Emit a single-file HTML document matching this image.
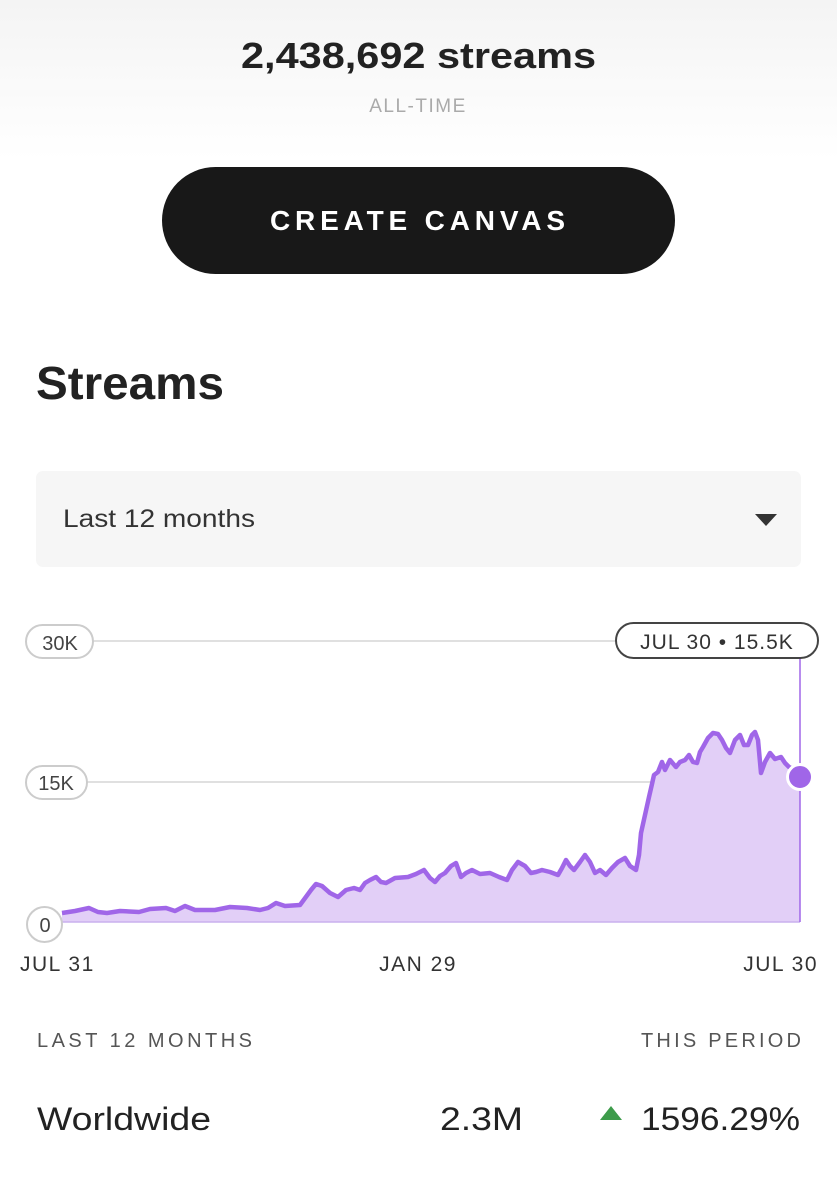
<!DOCTYPE html>
<html><head><meta charset="utf-8"><style>
html,body{margin:0;padding:0;width:837px;height:1199px;overflow:hidden;background:#fff;font-family:"Liberation Sans",sans-serif;}
svg{position:absolute;left:0;top:0}
</style></head><body>
<svg width="837" height="1199" viewBox="0 0 837 1199" font-family="Liberation Sans, sans-serif">
<defs><linearGradient id="g" x1="0" y1="0" x2="0" y2="1"><stop offset="0" stop-color="#f4f4f4"/><stop offset="1" stop-color="#ffffff"/></linearGradient></defs>
<rect x="0" y="0" width="837" height="160" fill="url(#g)"/>
<text x="241" y="68" font-size="36" font-weight="bold" fill="#222" textLength="355" lengthAdjust="spacingAndGlyphs">2,438,692 streams</text>
<text x="418" y="112" text-anchor="middle" font-size="19" fill="#aaa" letter-spacing="1.5">ALL-TIME</text>
<rect x="162" y="167" width="513" height="107" rx="53.5" fill="#181818"/>
<text x="270" y="230" font-size="28" font-weight="bold" fill="#fff" textLength="295" lengthAdjust="spacing">CREATE CANVAS</text>
<text x="36" y="399" font-size="46" font-weight="bold" fill="#222" textLength="188" lengthAdjust="spacingAndGlyphs">Streams</text>
<rect x="36" y="471" width="765" height="96" rx="7" fill="#f6f6f6"/>
<text x="63" y="527" font-size="25" fill="#333" textLength="192" lengthAdjust="spacingAndGlyphs">Last 12 months</text>
<polygon points="755,514 777,514 766,526" fill="#333"/>
<line x1="62" y1="641" x2="800" y2="641" stroke="#d6d6d6" stroke-width="1.5"/>
<line x1="62" y1="782" x2="800" y2="782" stroke="#d6d6d6" stroke-width="1.5"/>
<path d="M62,913 L75,911 L89,908 L98,912 L107,913 L120,911 L139,912 L150,909 L166,908 L175,911 L185,906 L195,910 L215,910 L230,907 L247,908 L260,910 L268,908 L276,903 L285,906 L300,905 L311,890 L316,884 L322,886 L330,893 L338,897 L346,890 L354,888 L360,890 L365,883 L370,880 L376,877 L381,882 L386,883 L395,878 L408,877 L416,874 L424,870 L430,878 L435,882 L440,876 L445,873 L451,866 L456,863 L461,877 L466,873 L472,870 L480,874 L490,873 L499,877 L507,880 L512,870 L518,862 L525,866 L531,873 L536,872 L542,870 L550,872 L558,875 L562,868 L566,860 L570,866 L574,870 L580,862 L585,855 L590,862 L595,873 L600,870 L606,875 L612,868 L618,862 L625,858 L630,866 L636,870 L639,855 L641,833 L645,815 L649,797 L652,784 L654,775 L658,772 L662,762 L665,770 L670,760 L676,767 L680,762 L685,760 L689,755 L693,762 L697,763 L700,752 L703,747 L708,738 L713,733 L718,734 L722,740 L726,748 L730,753 L735,740 L740,735 L744,745 L748,745 L752,735 L755,732 L758,740 L761,773 L765,762 L770,753 L775,759 L781,757 L785,763 L789,767 L795,770 L800,777 L800,922 L62,922 Z" fill="#e2cff7"/>
<path d="M62,913 L75,911 L89,908 L98,912 L107,913 L120,911 L139,912 L150,909 L166,908 L175,911 L185,906 L195,910 L215,910 L230,907 L247,908 L260,910 L268,908 L276,903 L285,906 L300,905 L311,890 L316,884 L322,886 L330,893 L338,897 L346,890 L354,888 L360,890 L365,883 L370,880 L376,877 L381,882 L386,883 L395,878 L408,877 L416,874 L424,870 L430,878 L435,882 L440,876 L445,873 L451,866 L456,863 L461,877 L466,873 L472,870 L480,874 L490,873 L499,877 L507,880 L512,870 L518,862 L525,866 L531,873 L536,872 L542,870 L550,872 L558,875 L562,868 L566,860 L570,866 L574,870 L580,862 L585,855 L590,862 L595,873 L600,870 L606,875 L612,868 L618,862 L625,858 L630,866 L636,870 L639,855 L641,833 L645,815 L649,797 L652,784 L654,775 L658,772 L662,762 L665,770 L670,760 L676,767 L680,762 L685,760 L689,755 L693,762 L697,763 L700,752 L703,747 L708,738 L713,733 L718,734 L722,740 L726,748 L730,753 L735,740 L740,735 L744,745 L748,745 L752,735 L755,732 L758,740 L761,773 L765,762 L770,753 L775,759 L781,757 L785,763 L789,767 L795,770" fill="none" stroke="#a066e8" stroke-width="4.5" stroke-linejoin="round"/>
<line x1="62" y1="922" x2="800" y2="922" stroke="#c9b0ee" stroke-width="1.5"/>
<line x1="800" y1="655" x2="800" y2="922" stroke="#a066e8" stroke-width="1.5"/>
<circle cx="800" cy="777" r="12.5" fill="#a066e8" stroke="#fff" stroke-width="3"/>
<rect x="26" y="625" width="67" height="33" rx="16.5" fill="#fff" stroke="#ccc" stroke-width="2"/>
<text x="60" y="650" text-anchor="middle" font-size="20" fill="#444">30K</text>
<rect x="26" y="766" width="61" height="33" rx="16.5" fill="#fff" stroke="#ccc" stroke-width="2"/>
<text x="56" y="790" text-anchor="middle" font-size="20" fill="#444">15K</text>
<rect x="27" y="907" width="35" height="35" rx="17.5" fill="#fff" stroke="#ccc" stroke-width="2"/>
<text x="45" y="932" text-anchor="middle" font-size="20" fill="#444">0</text>
<rect x="616" y="623" width="202" height="35" rx="17.5" fill="#fff" stroke="#444" stroke-width="2"/>
<text x="717" y="649" text-anchor="middle" font-size="21" fill="#333" letter-spacing="1">JUL 30 • 15.5K</text>
<text x="20" y="971" font-size="21" fill="#333" letter-spacing="1.5">JUL 31</text>
<text x="418" y="971" text-anchor="middle" font-size="21" fill="#333" letter-spacing="1.5">JAN 29</text>
<text x="818" y="971" text-anchor="end" font-size="21" fill="#333" letter-spacing="1.5">JUL 30</text>
<text x="37" y="1047" font-size="20" fill="#555" textLength="215" lengthAdjust="spacing">LAST 12 MONTHS</text>
<text x="641" y="1047" font-size="20" fill="#555" textLength="160" lengthAdjust="spacing">THIS PERIOD</text>
<text x="37" y="1130" font-size="32" fill="#222" textLength="174" lengthAdjust="spacingAndGlyphs">Worldwide</text>
<text x="440" y="1130" font-size="32" fill="#222" textLength="83" lengthAdjust="spacingAndGlyphs">2.3M</text>
<polygon points="600,1120 622,1120 611,1106" fill="#3d9b4a"/>
<text x="641" y="1130" font-size="32" fill="#222" textLength="159" lengthAdjust="spacingAndGlyphs">1596.29%</text>
</svg>
</body></html>
